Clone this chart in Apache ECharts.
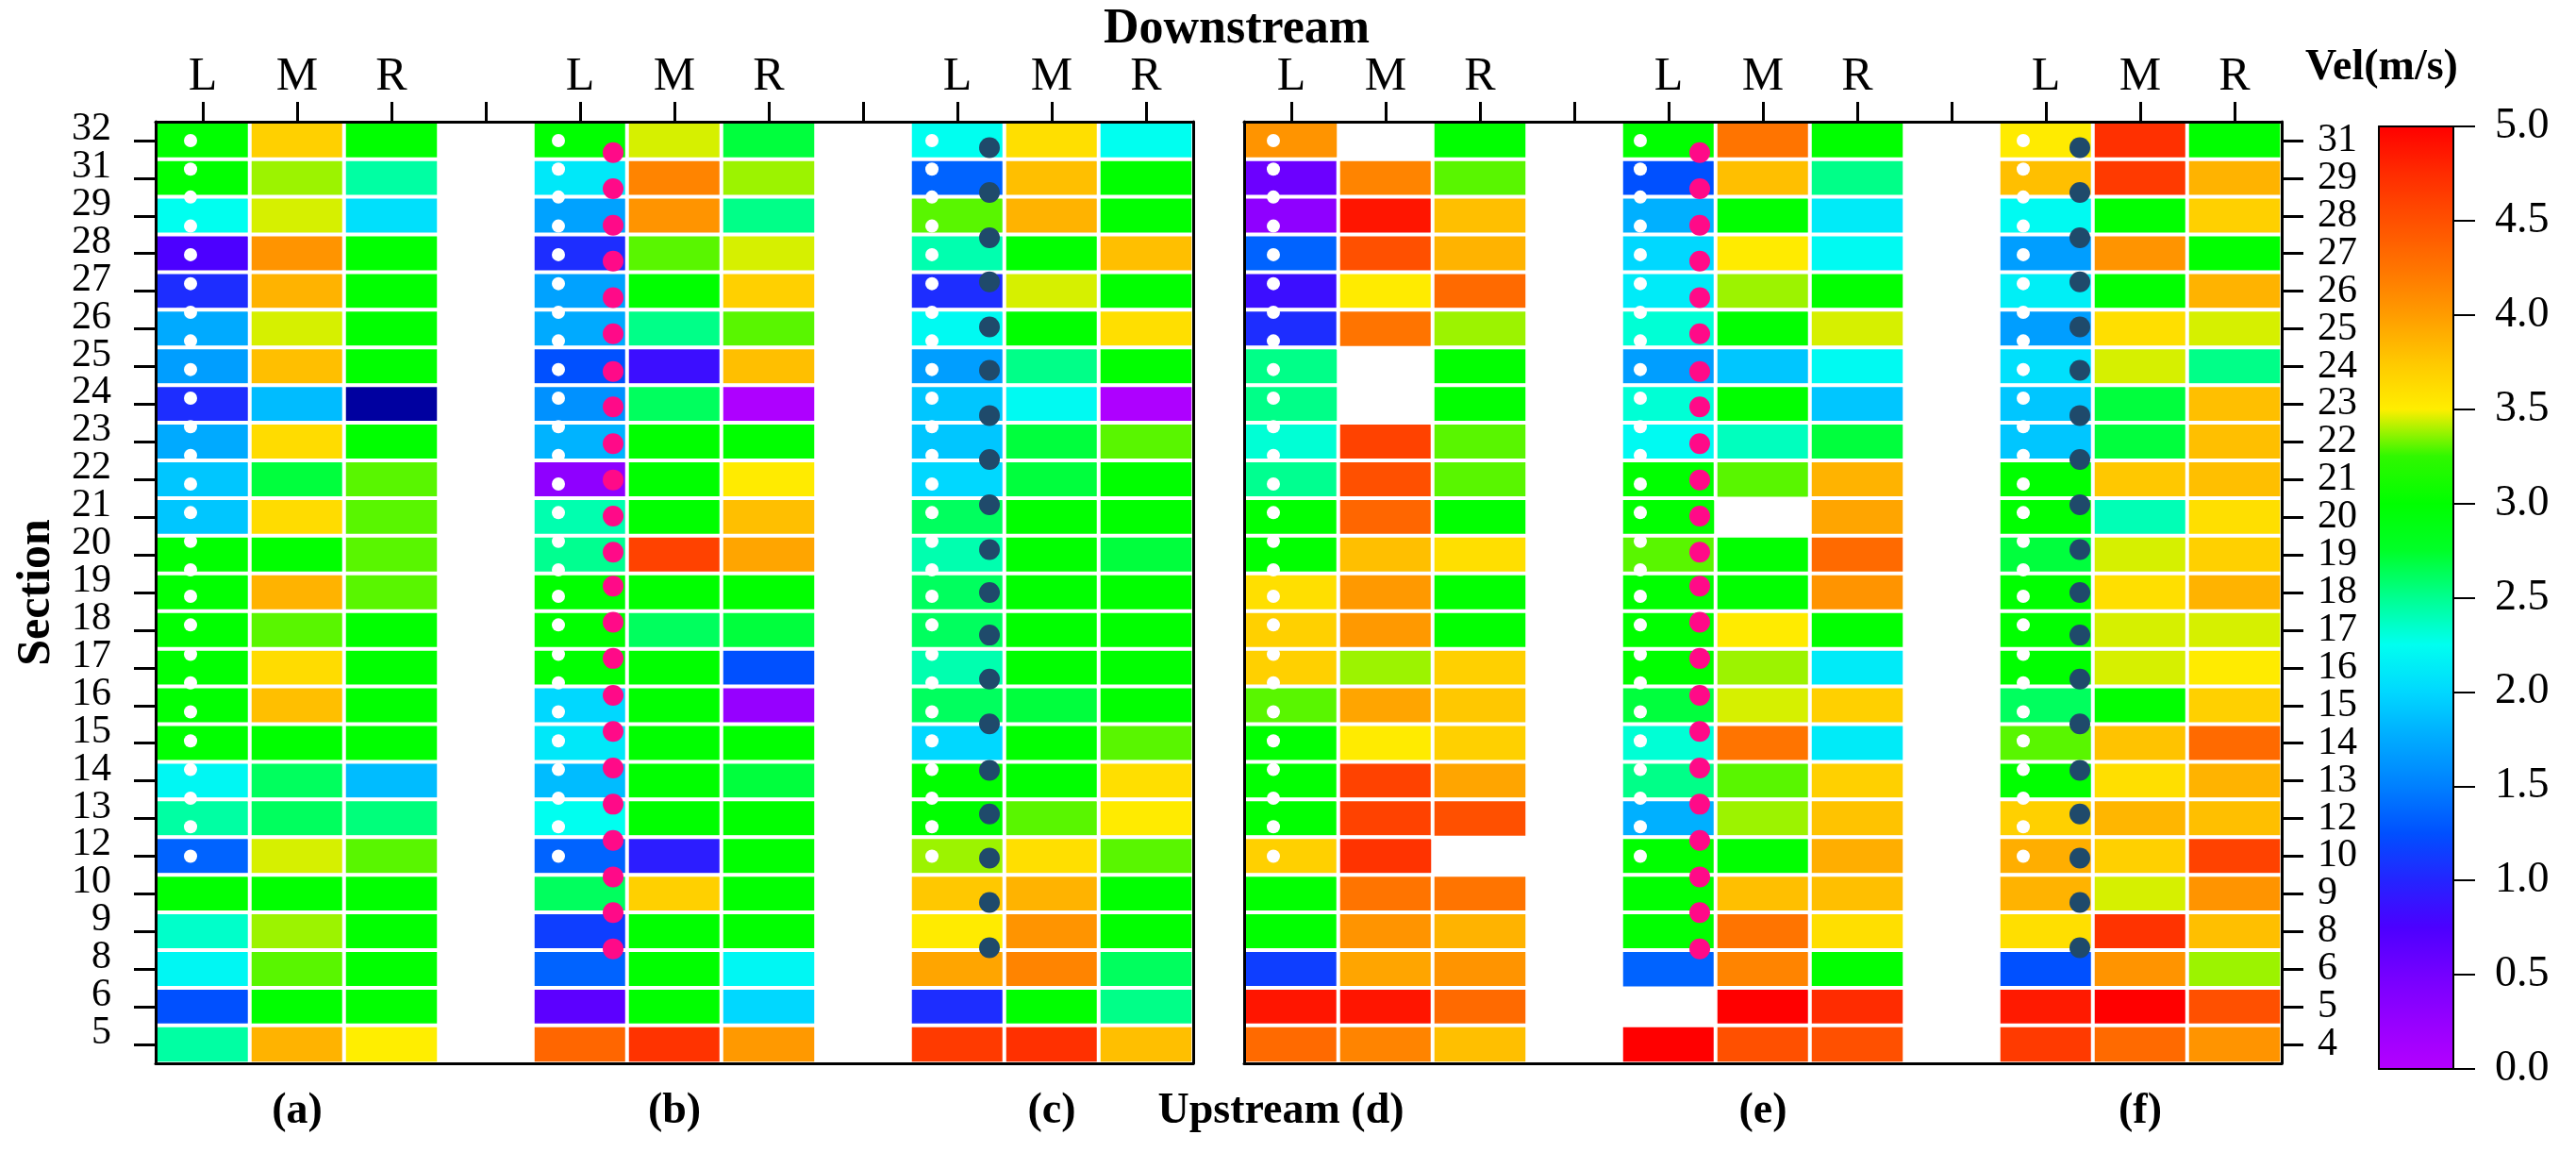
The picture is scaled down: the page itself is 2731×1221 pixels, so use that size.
<!DOCTYPE html>
<html>
<head>
	<meta http-equiv="Content-Type" content="text/html; charset=utf-8" />
	<title>Vel(m/s)</title>
	<script src="https://cdn.jsdelivr.net/npm/echarts/dist/echarts.min.js"></script>
	<style>
		html, body { margin: 0; padding: 0; background: #fff; }
		#main { width: 2731px; height: 1221px; }
	</style>
</head>
<body>
	<div id="main"></div>
	<script type="text/javascript">
		// sections, top row first
		var sectionsLeft = ['32','31','29','28','27','26','25','24','23','22','21','20','19','18','17','16','15','14','13','12','10','9','8','6','5'];
		var sectionsRight = ['31','29','28','27','26','25','24','23','22','21','20','19','18','17','16','15','14','13','12','10','9','8','6','5','4'];
		var colLabels = ['L','M','R','','L','M','R','','L','M','R'];
		var panelLeft = ['','(a)','','','','(b)','','','','(c)',''];
		var panelRight = ['','','','','','(e)','','','','(f)',''];

		// velocity (m/s) per column, top row first, null = no data
		// (the one dark navy cell in (a) R is off the colour scale, kept below 0)
		var aL = [3.0,3.0,2.25,0.75,1.05,1.75,1.68,1.05,1.75,1.9,1.9,3.0, 3.0,3.0,3.0,3.0,3.0,2.2,2.45,1.35,3.0,2.35,2.2,1.25,2.45];
		var aM = [3.7,3.38,3.45,4.05,3.87,3.45,3.8,1.85,3.62,2.7,3.62,3.0, 3.87,3.3,3.62,3.8,3.0,2.62,2.62,3.45,3.0,3.38,3.3,3.0,3.87];
		var aR = [3.0,2.45,2.05,3.0,3.0,3.0,3.0,-0.3,3.0,3.3,3.3,3.3, 3.3,3.0,3.0,3.0,3.0,1.85,2.55,3.3,3.0,3.0,3.0,3.0,3.5];

		var bL = [3.0,2.1,1.7,1.05,1.7,1.75,1.25,1.6,1.8,0.3,2.42,2.5, 3.0,3.0,3.0,2.0,2.1,1.85,2.25,1.35,2.62,1.15,1.35,0.65,4.35];
		var bM = [3.45,4.15,4.05,3.3,3.0,2.52,0.85,2.62,3.0,3.0,3.0,4.6, 3.0,2.62,3.0,3.0,3.0,3.0,3.0,0.95,3.7,3.0,3.0,3.0,4.7];
		var bR = [2.7,3.38,2.52,3.45,3.7,3.3,3.8,0.05,3.0,3.52,3.8,3.95, 3.0,2.7,1.25,0.25,3.0,2.7,3.0,3.0,3.0,3.0,2.2,2.0,4.02];

		var cL = [2.25,1.35,3.3,2.42,1.05,2.22,1.68,1.9,1.9,2.0,2.62,2.42, 2.62,2.62,2.42,2.62,2.0,3.0,3.0,3.38,3.75,3.52,3.95,1.05,4.65];
		var cM = [3.6,3.8,3.87,3.0,3.45,3.0,2.52,2.22,2.7,2.7,3.0,3.0, 3.0,3.0,3.0,2.7,3.0,3.0,3.3,3.6,3.87,4.05,4.15,3.0,4.72];
		var cR = [2.25,3.0,3.0,3.8,3.0,3.6,3.0,0.05,3.3,3.0,3.0,2.7, 3.0,3.0,3.0,3.0,3.3,3.6,3.52,3.3,3.0,3.0,2.62,2.52,3.8];

		var dL = [4.05,0.55,0.3,1.35,0.85,1.05,2.52,2.52,2.32,2.5,3.0,3.0, 3.6,3.7,3.7,3.3,3.0,3.0,3.0,3.7,3.0,3.0,1.15,4.88,4.32];
		var dM = [null,4.15,4.88,4.5,3.52,4.25,null,null,4.6,4.5,4.35,3.8, 4.02,4.02,3.38,3.95,3.52,4.6,4.6,4.7,4.25,4.05,3.95,4.88,4.15];
		var dR = [3.0,3.3,3.8,3.87,4.32,3.38,3.0,3.0,3.3,3.3,3.0,3.6, 3.0,3.0,3.7,3.75,3.7,3.95,4.5,null,4.25,3.87,4.05,4.32,3.8];

		var eL = [3.0,1.25,1.78,2.0,2.12,2.32,1.68,2.32,2.22,3.0,3.0,3.3, 3.0,3.0,3.0,2.7,2.32,2.52,1.78,3.0,3.0,3.0,1.35,null,5.0];
		var eM = [4.25,3.8,3.0,3.52,3.38,3.0,1.9,3.0,2.38,3.3,null,3.0, 3.0,3.52,3.38,3.45,4.25,3.3,3.38,3.0,3.8,4.25,4.15,5.0,4.5];
		var eR = [3.0,2.52,2.12,2.22,3.0,3.45,2.22,1.9,2.7,3.87,3.95,4.32, 4.05,3.0,2.12,3.7,2.12,3.7,3.78,3.9,3.8,3.6,3.0,4.75,4.5];

		var fL = [3.52,3.8,2.22,1.68,2.15,1.68,2.05,1.9,1.9,3.0,3.0,2.7, 3.0,3.0,3.0,2.62,3.3,3.0,3.7,3.9,3.87,3.6,1.25,4.85,4.65];
		var fM = [4.72,4.65,3.0,4.05,3.0,3.6,3.45,2.7,2.7,3.75,2.4,3.45, 3.6,3.45,3.45,3.0,3.78,3.6,3.85,3.7,3.45,4.7,4.05,5.0,4.32];
		var fR = [3.0,3.87,3.7,3.0,3.87,3.45,2.52,3.8,3.8,3.8,3.6,3.7, 3.87,3.45,3.52,3.7,4.32,3.87,3.8,4.6,4.05,3.8,3.38,4.5,4.05];

		// marker positions along the left bank, in rows from the top row
		var whiteDots = [0,0.76,1.5,2.27,3.03,3.8,4.56,5.32,6.08,6.84,7.6,8.36,9.12,9.88,10.64,11.4,12.1,12.86,13.64,14.4,15.17,15.94,16.7,17.46,18.22,19.0];
		var pinkDots = [0.32,1.28,2.25,3.2,4.17,5.13,6.13,7.07,8.05,9.01,9.97,10.93,11.83,12.79,13.75,14.73,15.69,16.66,17.62,18.58,19.55,20.5,21.46];
		var darkDots = [0.19,1.38,2.58,3.75,4.95,6.1,7.3,8.47,9.67,10.86,12.0,13.13,14.3,15.49,16.72,17.88,19.05,20.23,21.43];

		// colour scale 0..5 m/s, one stop per 0.25
		var velColors = ['#b400ff','#9600ff','#7400ff','#4c00ff','#2424ff','#0050ff','#0080ff','#00aaff','#00d8ff','#00fff0',
			'#00ff90','#00ff28','#00ff00','#30f800','#ffee00','#ffc800','#ff9c00','#ff7400','#ff5000','#ff2c00','#ff0000'];

		var FONT = "'Liberation Serif', 'Times New Roman', serif";

		function cells(panels) {
			var out = [];
			panels.forEach(function (cols, p) {
				cols.forEach(function (col, c) {
					col.forEach(function (v, r) {
						if (v !== null) out.push([p * 4 + c, r, v]);
					});
				});
			});
			return out;
		}

		function dots(rows, slot, shift) {
			return rows.map(function (r) { return [slot + shift, r]; });
		}

		var blackLine = { show: true, onZero: false, lineStyle: { color: '#000', width: 3 } };
		var noSplit = { show: false };

		function topAxis(g) {
			return {
				gridIndex: g, type: 'category', position: 'top', data: colLabels, z: 10,
				axisLine: blackLine,
				axisTick: { show: true, interval: 0, alignWithLabel: true, length: 21, lineStyle: { color: '#000', width: 3 } },
				axisLabel: { interval: 0, color: '#000', fontFamily: FONT, fontSize: 50, margin: 22 },
				splitLine: noSplit
			};
		}
		function bottomAxis(g, labels) {
			return {
				gridIndex: g, type: 'category', position: 'bottom', data: labels, z: 10,
				axisLine: blackLine, axisTick: { show: false },
				axisLabel: { interval: 0, color: '#000', fontFamily: FONT, fontWeight: 'bold', fontSize: 46, margin: 28 },
				splitLine: noSplit
			};
		}
		function hiddenX(g) {
			return { gridIndex: g, type: 'value', min: -0.5, max: 10.5, show: false };
		}
		function sectionAxis(g, labels, pos) {
			return {
				gridIndex: g, type: 'category', data: labels, inverse: true, position: pos, z: 10,
				axisLine: blackLine,
				axisTick: { show: true, interval: 0, alignWithLabel: true, length: 23, lineStyle: { color: '#000', width: 3 } },
				axisLabel: pos === 'left'
					? { interval: 0, color: '#000', fontFamily: FONT, fontSize: 42, margin: 47, verticalAlign: 'bottom', lineHeight: 24 }
					: { interval: 0, color: '#000', fontFamily: FONT, fontSize: 42, margin: 38 },
				splitLine: noSplit
			};
		}
		function rowAxis(g, pos) {
			return {
				gridIndex: g, type: 'value', min: -0.5, max: 24.5, inverse: true, position: pos, z: 10,
				axisLine: blackLine, axisTick: { show: false }, axisLabel: { show: false }, splitLine: noSplit
			};
		}
		function plainLine(g, pos) {
			return {
				gridIndex: g, type: 'value', position: pos, z: 10, min: 0, max: 1,
				axisLine: { show: true, onZero: false, lineStyle: { color: '#000', width: 2 } },
				axisTick: { show: false }, axisLabel: { show: false }, splitLine: noSplit
			};
		}

		function dotSeries(data, xi, yi, color, size) {
			return {
				type: 'scatter', xAxisIndex: xi, yAxisIndex: yi, data: data, symbol: 'circle',
				symbolSize: size, itemStyle: { color: color, opacity: 1 }, silent: true, z: 5
			};
		}

		var chart = echarts.init(document.getElementById('main'));
		chart.setOption({
			animation: false,
			backgroundColor: '#fff',
			grid: [
				{ left: 165, top: 129, width: 1100, height: 998 },
				{ left: 1319, top: 129, width: 1100, height: 998 },
				{ left: 2522, top: 134, width: 79, height: 999 }
			],
			xAxis: [
				topAxis(0), bottomAxis(0, panelLeft), hiddenX(0),
				topAxis(1), bottomAxis(1, panelRight), hiddenX(1),
				plainLine(2, 'top'), plainLine(2, 'bottom')
			],
			yAxis: [
				sectionAxis(0, sectionsLeft, 'left'), rowAxis(0, 'right'),
				sectionAxis(1, sectionsRight, 'right'), rowAxis(1, 'left'),
				{
					gridIndex: 2, type: 'value', position: 'right', min: 0, max: 5, interval: 0.5, z: 10,
					axisLine: { show: true, onZero: false, lineStyle: { color: '#000', width: 2 } },
					axisTick: { show: true, length: 23, lineStyle: { color: '#000', width: 2 } },
					axisLabel: { color: '#000', fontFamily: FONT, fontSize: 46, margin: 44,
						formatter: function (v) { return v.toFixed(1); } },
					splitLine: noSplit
				},
				plainLine(2, 'left')
			],
			visualMap: {
				type: 'continuous', min: 0, max: 5, range: [0.0001, 5], dimension: 2, seriesIndex: [0, 1],
				calculable: false, hoverLink: false, padding: 0,
				left: 2522, top: 134, itemWidth: 79, itemHeight: 999,
				inRange: { color: velColors },
				outOfRange: { color: '#0000a0' }
			},
			series: [
				{
					type: 'heatmap', xAxisIndex: 0, yAxisIndex: 0,
					data: cells([[aL, aM, aR], [bL, bM, bR], [cL, cM, cR]]),
					itemStyle: { borderColor: '#fff', borderWidth: 4 }, silent: true
				},
				{
					type: 'heatmap', xAxisIndex: 3, yAxisIndex: 2,
					data: cells([[dL, dM, dR], [eL, eM, eR], [fL, fM, fR]]),
					itemStyle: { borderColor: '#fff', borderWidth: 4 }, silent: true
				},
				dotSeries([].concat(dots(whiteDots, 0, -0.13), dots(whiteDots, 4, -0.23), dots(whiteDots, 8, -0.27)), 2, 1, '#fff', 14),
				dotSeries(dots(pinkDots, 4, 0.35), 2, 1, '#ff0a88', 22),
				dotSeries(dots(darkDots, 8, 0.34), 2, 1, '#1f4a6b', 22),
				dotSeries([].concat(dots(whiteDots, 0, -0.19), dots(whiteDots, 4, -0.3), dots(whiteDots, 8, -0.24)), 5, 3, '#fff', 14),
				dotSeries(dots(pinkDots, 4, 0.33), 5, 3, '#ff0a88', 22),
				dotSeries(dots(darkDots, 8, 0.36), 5, 3, '#1f4a6b', 22)
			],
			graphic: [
				{ type: 'text', x: 1311, y: 32, style: { text: 'Downstream', fill: '#000', font: 'bold 52px ' + FONT, textAlign: 'center', textVerticalAlign: 'middle', verticalAlign: 'middle' } },
				{ type: 'text', x: 1358, y: 1178, style: { text: 'Upstream (d)', fill: '#000', font: 'bold 46px ' + FONT, textAlign: 'center', textVerticalAlign: 'middle', verticalAlign: 'middle' } },
				{ type: 'text', x: 39, y: 628, rotation: Math.PI / 2, style: { text: 'Section', fill: '#000', font: 'bold 50px ' + FONT, textAlign: 'center', textVerticalAlign: 'middle', verticalAlign: 'middle' } },
				{ type: 'text', x: 2525, y: 72, style: { text: 'Vel(m/s)', fill: '#000', font: 'bold 46px ' + FONT, textAlign: 'center', textVerticalAlign: 'middle', verticalAlign: 'middle' } }
			]
		});
	</script>
</body>
</html>
